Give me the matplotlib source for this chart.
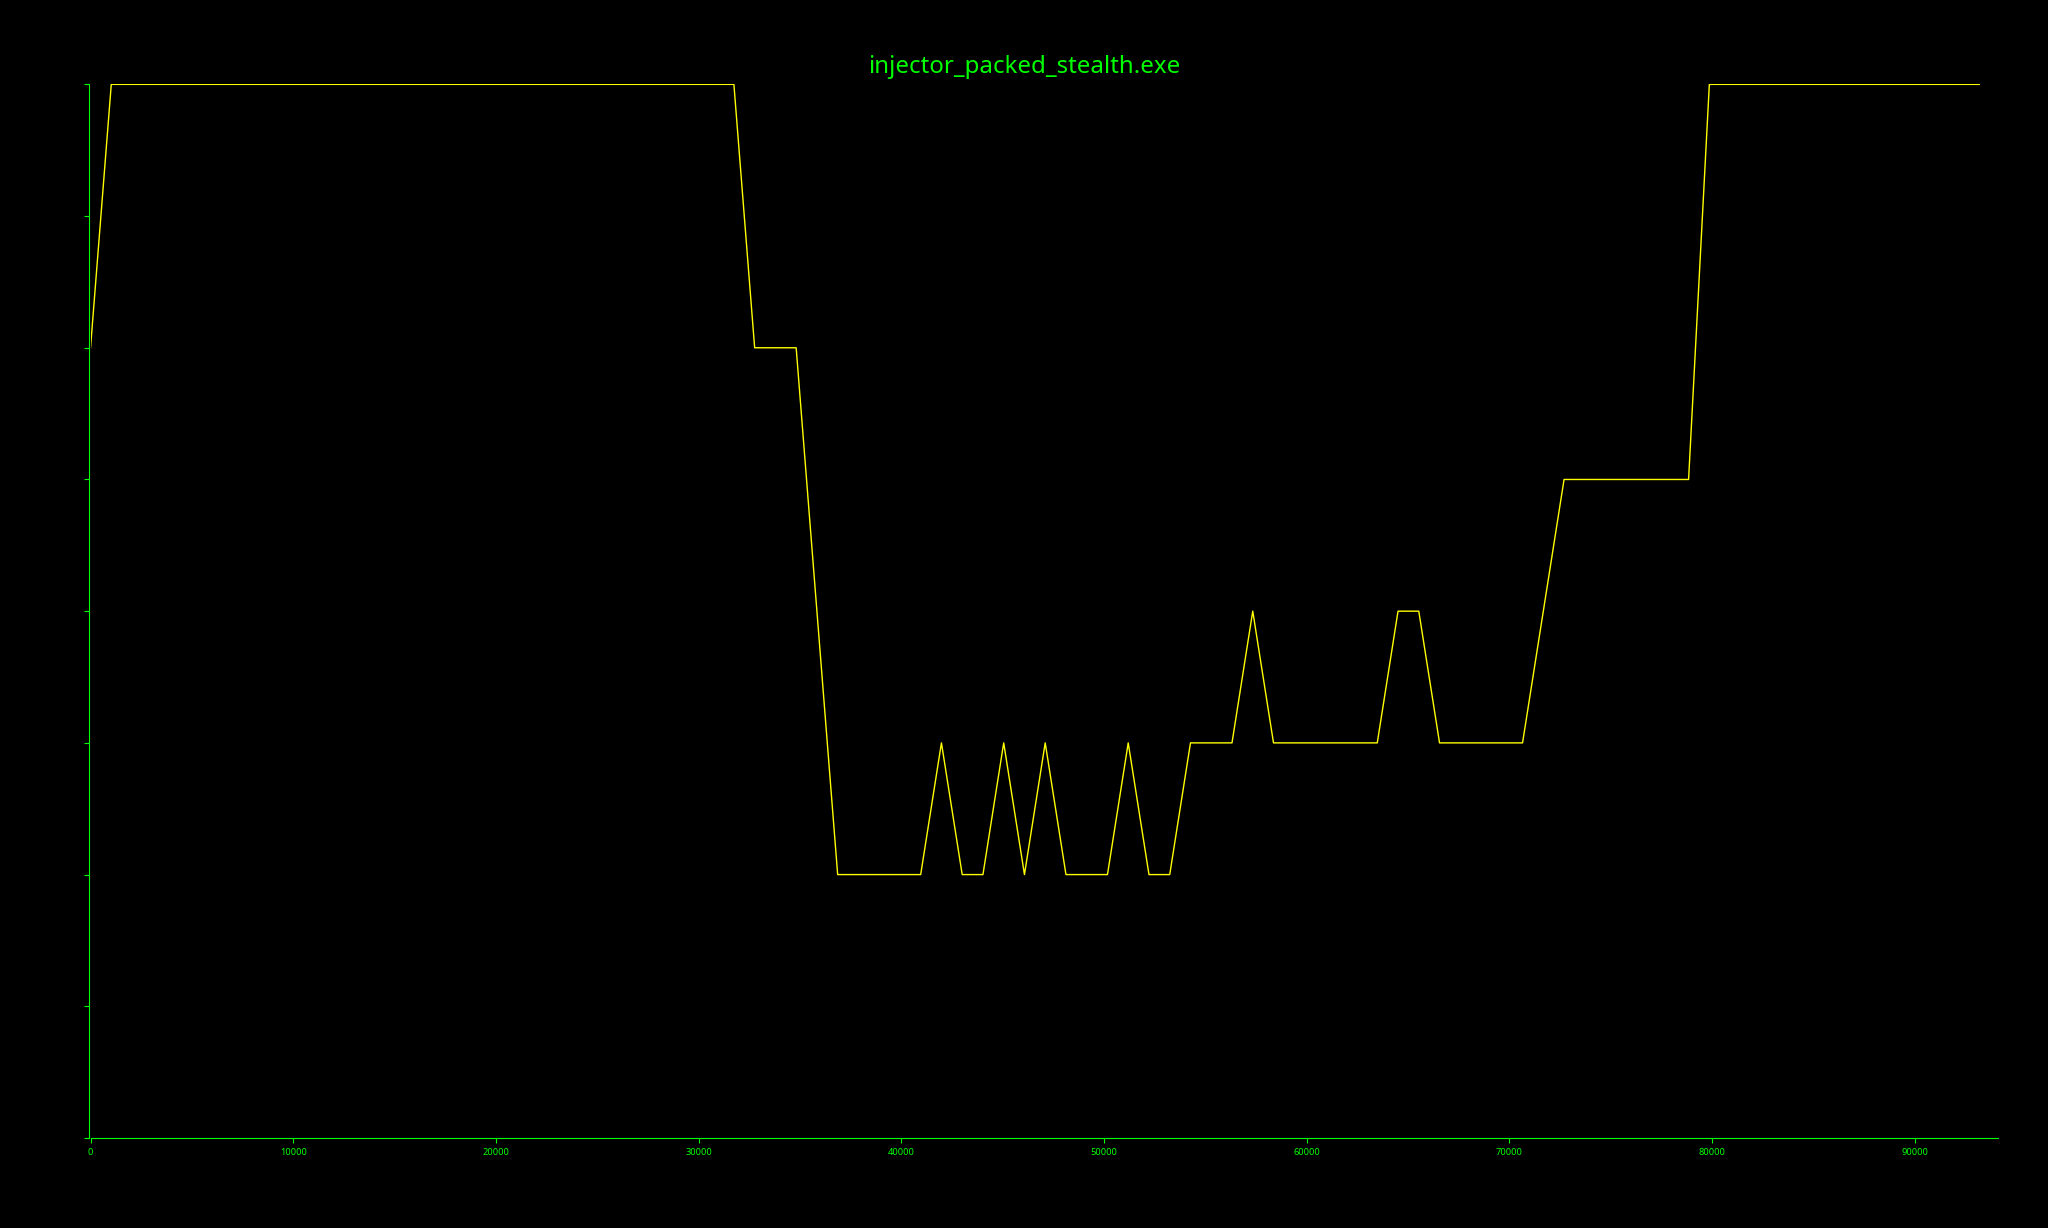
import matplotlib
matplotlib.use("Agg")
import matplotlib.pyplot as plt

# entropia por bloque de 1024 bytes (solo los vertices de la curva)
tam_bloque = 1024
bloques = [0, 1, 31, 32, 34, 36, 40, 41, 42, 43, 44, 45, 46, 47, 49, 50,
           51, 52, 53, 55, 56, 57, 62, 63, 64, 65, 69, 71, 77, 78, 91]
entropia = [6, 8, 8, 6, 6, 2, 2, 3, 2, 2, 3, 2, 3, 2, 2, 3,
            2, 2, 3, 3, 4, 3, 3, 4, 4, 3, 3, 5, 5, 8, 8]
titulo = "injector_packed_stealth.exe"

offsets = [b * tam_bloque for b in bloques]

verde = "#00ff00"
plt.rcParams["font.family"] = ["Noto Sans", "DejaVu Sans"]

fig = plt.figure(figsize=(20.48, 12.28), dpi=100, facecolor="black")
ax = fig.add_axes([0.0442, 0.0733, 0.9314, 0.858])
ax.set_facecolor("black")

ax.plot(offsets, entropia, color="#ffff00", linewidth=1.0)

ax.set_xlim(0, offsets[-1] * 1.01)
ax.set_ylim(0, 8)
ax.set_yticks(range(0, 9))
ax.set_yticklabels([])
ax.set_xticks(range(0, 100000, 10000))

for lado in ["top", "right"]:
    ax.spines[lado].set_visible(False)
for lado in ["left", "bottom"]:
    ax.spines[lado].set_color(verde)
ax.spines["left"].set_position(("outward", 1))

ax.tick_params(colors=verde, labelsize=6.7)

fig.text(0.5, 1 - 73.3 / 1228, titulo, color=verde, fontsize=17.3,
         ha="center", va="baseline")

fig.savefig("out.png", dpi=100, facecolor="black")
